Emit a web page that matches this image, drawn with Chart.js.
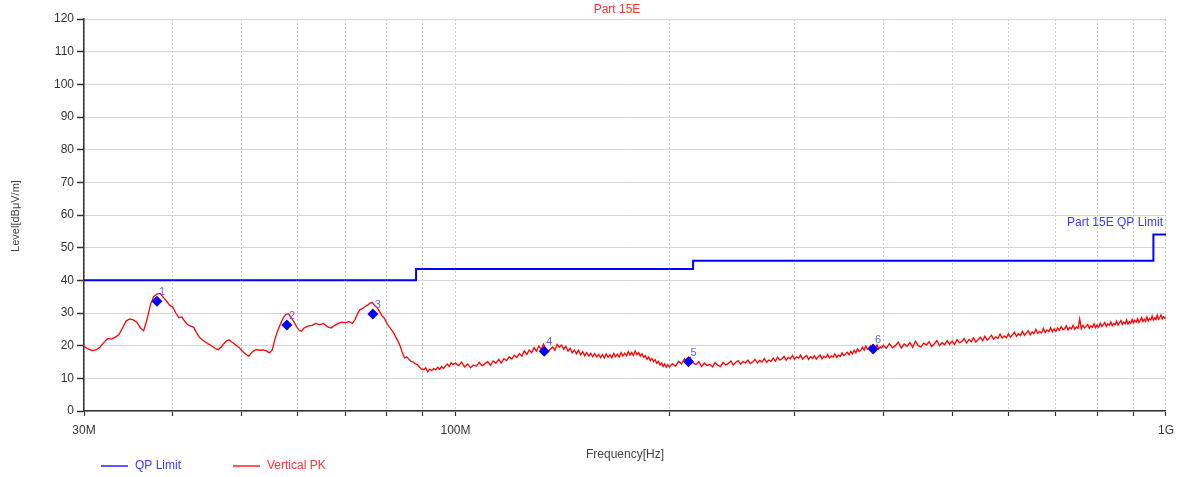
<!DOCTYPE html>
<html>
<head>
<meta charset="utf-8">
<script src="https://cdn.jsdelivr.net/npm/chart.js@4/dist/chart.umd.min.js"></script>
<style>
  html, body { margin: 0; padding: 0; background: #fff; }
  #wrap { width: 1181px; height: 477px; position: relative; }
</style>
</head>
<body>
<div id="wrap"><canvas id="emiChart"></canvas></div>
<script>
// ---- data (MHz / dBuV/m) ----
const gridFreqs = [30, 40, 50, 60, 70, 80, 90, 100, 200, 300, 400, 500, 600, 700, 800, 900, 1000];
const freqLabels = { 30: '30M', 100: '100M', 1000: '1G' };

const limitFreq = [30, 88, 88, 216, 216, 960, 960, 1000];
const limitLevel = [40, 40, 43.5, 43.5, 46, 46, 54, 54];

const markerFreq = [38.0, 57.9, 76.5, 133.3, 212.8, 387];
const markerLevel = [33.6, 26.3, 29.7, 18.3, 15.1, 19.0];
const markerNames = ['1', '2', '3', '4', '5', '6'];

const peakFreq = [
  30.0, 30.4, 30.8, 31.2, 31.6, 32.0, 32.4, 32.8, 33.2, 33.6, 34.0, 34.4, 34.8, 35.2, 35.6, 36.0, 36.4, 36.8, 37.2, 37.6,
  38.0, 38.4, 38.8, 39.2, 39.6, 40.0, 40.4, 40.8, 41.2, 41.6, 42.0, 42.4, 42.8, 43.2, 43.6, 44.0, 44.4, 44.8, 45.2, 45.6,
  46.0, 46.4, 46.8, 47.2, 47.6, 48.0, 48.4, 48.8, 49.2, 49.6, 50.0, 50.4, 50.8, 51.2, 51.6, 52.0, 52.4, 53.0, 53.6, 54.2,
  54.7, 55.2, 55.7, 56.2, 56.7, 57.2, 57.7, 58.2, 58.7, 59.2, 59.7, 60.2, 60.7, 61.2, 62.0, 62.8, 63.6, 64.4, 65.2, 66.0,
  66.8, 67.6, 68.4, 69.2, 70.0, 70.8, 71.6, 72.2, 72.8, 73.4, 74.0, 74.6, 75.2, 75.8, 76.4, 77.0, 77.6, 78.2, 78.8, 79.4,
  80.0, 80.6, 81.2, 81.8, 82.4, 83.0, 83.6, 84.2, 84.8, 85.4, 86.0, 86.6, 87.2, 87.8, 88.4, 89.0, 89.6, 90.2, 90.8, 91.4,
  92.0, 92.6, 93.2, 93.8, 94.4, 95.0, 95.6, 96.2, 96.8, 97.4, 98.0, 98.6, 99.2,
  100, 101, 102, 103, 104, 105, 106, 107, 108, 109, 110, 111, 112, 113, 114, 115, 116, 117, 118, 119,
  120, 121, 122, 123, 124, 125, 126, 127, 128, 129, 130, 131, 132, 133, 134, 135, 136, 137, 138, 139,
  140, 141, 142, 143, 144, 145, 146, 147, 148, 149, 150, 151, 152, 153, 154, 155, 156, 157, 158, 159,
  160, 161, 162, 163, 164, 165, 166, 167, 168, 169, 170, 171, 172, 173, 174, 175, 176, 177, 178, 179,
  180, 181, 182, 183, 184, 185, 186, 187, 188, 189, 190, 191, 192, 193, 194, 195, 196, 197, 198, 199,
  200, 202, 204, 206, 208, 210, 212, 214, 216, 218, 220, 222, 224, 226, 228, 230, 232, 234, 236, 238,
  240, 242, 244, 246, 248, 250, 252, 254, 256, 258, 260, 262, 264, 266, 268, 270, 272, 274, 276, 278,
  280, 282, 284, 286, 288, 290, 292, 294, 296, 298, 300, 302, 304, 306, 308, 310, 312, 314, 316, 318,
  320, 322, 324, 326, 328, 330, 332, 334, 336, 338, 340, 342, 344, 346, 348, 350, 352, 354, 356, 358,
  360, 362, 364, 366, 368, 370, 372, 374, 376, 378, 380, 382, 384, 386, 388, 390, 392, 394, 396, 398,
  400, 404, 408, 412, 416, 420, 424, 428, 432, 436, 440, 444, 448, 452, 456, 460, 464, 468, 472, 476,
  480, 484, 488, 492, 496, 500, 504, 508, 512, 516, 520, 524, 528, 532, 536, 540, 544, 548, 552, 556,
  560, 564, 568, 572, 576, 580, 584, 588, 592, 596, 600, 604, 608, 612, 616, 620, 624, 628, 632, 636,
  640, 644, 648, 652, 656, 660, 664, 668, 672, 676, 680, 684, 688, 692, 696, 700, 704, 708, 712, 716,
  720, 724, 728, 732, 736, 740, 744, 748, 752, 756, 760, 764, 768, 772, 776, 780, 784, 788, 792, 796,
  800, 804, 808, 812, 816, 820, 824, 828, 832, 836, 840, 844, 848, 852, 856, 860, 864, 868, 872, 876,
  880, 884, 888, 892, 896, 900, 904, 908, 912, 916, 920, 924, 928, 932, 936, 940, 944, 948, 952, 956,
  960, 964, 968, 972, 976, 980, 984, 988, 992, 996, 1000
];

const peakLevel = [
  // 30 - 99.2 MHz
  19.8, 19.0, 18.5, 18.7, 19.6, 21.0, 22.2, 22.0, 22.6, 23.4, 25.5, 27.6, 28.2, 27.9, 27.2, 25.5, 24.6, 28.0, 32.5, 35.0,
  35.8, 36.0, 34.8, 33.6, 32.4, 31.8, 30.0, 28.6, 28.8, 27.4, 26.4, 26.0, 25.6, 24.0, 22.6, 21.8, 21.2, 20.6, 20.2, 19.6,
  19.0, 18.8, 19.6, 20.6, 21.4, 21.8, 21.2, 20.6, 20.0, 19.4, 18.6, 17.8, 17.2, 16.8, 17.8, 18.4, 18.8, 18.6, 18.7, 18.4,
  17.8, 18.6, 22.0, 24.6, 26.6, 28.4, 29.6, 29.8, 28.6, 27.4, 26.0, 24.8, 24.4, 25.4, 26.0, 26.2, 26.8, 26.4, 26.8, 25.8,
  25.4, 26.2, 26.8, 27.2, 27.0, 27.4, 26.8, 28.0, 29.8, 31.0, 31.4, 32.0, 32.4, 33.0, 33.2, 32.2, 31.6, 30.4, 29.2, 28.4,
  27.0, 25.8, 25.0, 24.0, 22.6, 21.4, 19.8, 17.8, 16.2, 16.6, 15.8, 15.2, 15.0, 14.4, 14.2, 13.4, 12.8, 12.6, 13.2, 12.0,
  12.8, 12.4, 13.0, 12.6, 13.4, 12.8, 13.6, 13.0, 13.8, 14.4, 13.6, 14.8, 14.2,
  // 100 - 199 MHz
  14.7, 13.9, 15.0, 13.5, 14.4, 13.2, 14.1, 13.7, 14.9, 13.8, 14.5, 15.1, 14.0, 15.3, 14.6, 15.8, 14.7, 16.0, 15.4, 16.6,
  15.9, 17.1, 16.4, 17.6, 16.8, 18.4, 17.3, 18.7, 17.8, 19.4, 18.3, 19.9, 18.8, 20.5, 18.9, 18.1, 19.0, 19.6, 18.6, 20.4,
  19.5, 20.2, 18.9, 19.8, 18.3, 19.2, 17.8, 18.7, 17.5, 18.6, 17.2, 18.2, 16.9, 17.9, 16.8, 17.7, 16.6, 17.6, 16.5, 17.4,
  16.3, 17.3, 16.2, 17.5, 16.5, 17.2, 16.3, 17.6, 16.6, 17.4, 16.5, 17.9, 16.8, 17.7, 16.9, 18.2, 17.1, 18.0, 17.0, 18.4,
  17.2, 17.9, 16.8, 17.5, 16.4, 17.0, 15.8, 16.5, 15.4, 16.1, 15.1, 15.7, 14.6, 15.2, 14.1, 14.7, 13.6, 14.4, 13.4, 14.2,
  // 200 - 398 MHz
  13.5, 14.5, 13.7, 15.2, 14.4, 16.0, 15.1, 16.3, 14.8, 14.2, 15.1, 13.6, 14.7, 13.9, 14.3, 13.5, 14.8, 14.0, 13.6, 14.9,
  14.1, 14.5, 15.3, 14.1, 14.9, 15.4, 14.3, 15.2, 14.7, 15.6, 14.5, 15.0, 15.8, 14.7, 15.5, 15.0, 16.1, 14.9, 15.6, 15.2,
  16.2, 15.3, 16.5, 15.6, 16.0, 16.7, 15.5, 16.4, 16.0, 17.0, 15.8, 16.6, 16.2, 17.1, 15.9, 16.5, 17.0, 15.8, 16.7, 16.1,
  16.9, 15.9, 16.6, 17.1, 16.0, 16.8, 16.3, 17.3, 16.2, 16.9, 16.5, 17.5, 16.4, 17.1, 16.7, 17.8, 16.9, 17.4, 18.0, 17.2,
  18.3, 17.5, 18.6, 17.8, 19.0, 18.2, 18.7, 19.5, 18.6, 19.9, 18.9, 19.4, 20.0, 18.8, 19.6, 19.1, 20.2, 19.0, 19.7, 19.3,
  // 400 - 1000 MHz
  20.1, 19.2, 20.6, 19.4, 20.0, 21.1, 19.3, 20.5, 19.8, 20.9, 19.5, 21.4, 20.0, 19.6, 20.8, 20.2, 21.2, 19.7, 20.6, 21.6,
  20.0, 20.9, 20.3, 21.5, 20.4, 21.4, 20.4, 21.8, 20.9, 21.3, 22.2, 20.8, 21.9, 21.2, 22.4, 21.1, 21.8, 22.6, 21.5, 22.9,
  21.7, 22.3, 23.2, 22.0, 22.7, 22.2, 23.5, 22.3, 23.0, 22.4, 23.6, 22.6, 23.3, 24.1, 22.8, 23.7, 23.1, 24.4, 23.2, 23.9,
  24.6, 23.3, 24.2, 23.7, 25.0, 23.8, 24.4, 23.9, 25.3, 24.0, 24.8, 24.3, 25.5, 24.2, 25.1, 24.4, 25.4, 24.7, 25.8, 24.9,
  25.2, 26.1, 24.8, 25.6, 25.1, 26.2, 25.0, 25.7, 25.3, 28.2, 25.2, 26.3, 25.4, 25.9, 26.5, 25.3, 26.1, 25.6, 26.7, 25.5,
  26.3, 25.6, 26.9, 25.9, 26.4, 27.1, 25.9, 26.7, 26.2, 27.3, 26.1, 26.8, 26.4, 27.5, 26.3, 27.0, 27.7, 26.5, 27.2, 26.7,
  27.9, 26.6, 27.4, 26.9, 28.0, 27.0, 27.8, 27.2, 28.3, 27.1, 27.7, 28.6, 27.4, 28.1, 27.5, 28.8, 27.6, 28.3, 27.9, 29.1,
  27.8, 28.5, 28.0, 29.3, 28.1, 28.7, 29.4, 28.2, 28.9, 28.4, 28.6
];

const toPoints = (xs, ys) => xs.map((x, i) => ({ x: x, y: ys[i] }));

// ---- texts, legend, marker numbers ----
const overlayPlugin = {
  id: 'overlay',
  afterDraw(chart) {
    const c = chart.ctx;
    const xs = chart.scales.x;
    const ys = chart.scales.y;
    c.save();
    c.textBaseline = 'middle';

    // title
    c.font = '12px "Liberation Sans", Arial, sans-serif';
    c.fillStyle = '#ff3030';
    c.textAlign = 'center';
    c.fillText('Part 15E', 617, 10);

    // limit name
    c.fillStyle = '#3a3aee';
    c.textAlign = 'right';
    c.fillText('Part 15E QP Limit', xs.getPixelForValue(1000) - 3, ys.getPixelForValue(54) - 12);

    // marker numbers
    c.font = '11px "Liberation Sans", Arial, sans-serif';
    c.fillStyle = '#6060ff';
    c.textAlign = 'left';
    markerFreq.forEach((f, i) => {
      c.fillText(markerNames[i], xs.getPixelForValue(f) + 2, ys.getPixelForValue(markerLevel[i]) - 9);
    });

    // axis titles
    c.font = '12px "Liberation Sans", Arial, sans-serif';
    c.fillStyle = '#444';
    c.textAlign = 'center';
    c.fillText('Frequency[Hz]', 625, 455);
    c.save();
    c.translate(16, 216);
    c.rotate(-Math.PI / 2);
    c.font = '11px "Liberation Sans", Arial, sans-serif';
    c.fillText('Level[dB\u03bcV/m]', 0, 0);
    c.restore();

    // legend
    c.font = '12px "Liberation Sans", Arial, sans-serif';
    c.textAlign = 'left';
    c.lineWidth = 1.5;
    c.strokeStyle = '#2020ff';
    c.beginPath(); c.moveTo(101, 466); c.lineTo(128, 466); c.stroke();
    c.fillStyle = '#3a3aff';
    c.fillText('QP Limit', 135, 466);
    c.strokeStyle = '#ff2020';
    c.beginPath(); c.moveTo(233, 466); c.lineTo(260, 466); c.stroke();
    c.fillStyle = '#ff3030';
    c.fillText('Vertical PK', 267, 466);
    c.restore();
  }
};

const ctx = document.getElementById('emiChart').getContext('2d');
new Chart(ctx, {
  type: 'line',
  data: {
    datasets: [
      {
        label: 'Vertical PK',
        data: toPoints(peakFreq, peakLevel),
        borderColor: '#ff0000',
        borderWidth: 1.3,
        pointRadius: 0,
        tension: 0,
        order: 3
      },
      {
        label: 'QP Limit',
        data: toPoints(limitFreq, limitLevel),
        borderColor: '#0000ff',
        borderWidth: 2,
        pointRadius: 0,
        tension: 0,
        order: 2
      },
      {
        label: 'markers',
        data: toPoints(markerFreq, markerLevel),
        showLine: false,
        pointStyle: 'rectRot',
        pointRadius: 5.5,
        backgroundColor: '#0000ff',
        borderColor: '#0000ff',
        borderWidth: 0,
        order: 1
      }
    ]
  },
  options: {
    responsive: true,
    maintainAspectRatio: false,
    animation: false,
    layout: { padding: { left: 0, right: 15, top: 19, bottom: 0 } },
    plugins: { legend: { display: false }, title: { display: false }, tooltip: { enabled: false } },
    scales: {
      x: {
        type: 'logarithmic',
        min: 30,
        max: 1000,
        afterBuildTicks: (scale) => { scale.ticks = gridFreqs.map(v => ({ value: v })); },
        afterFit: (scale) => { scale.height = 66; },
        ticks: {
          autoSkip: false,
          maxRotation: 0,
          padding: 7,
          color: '#333',
          font: { family: '"Liberation Sans", Arial, sans-serif', size: 12 },
          callback: (v) => freqLabels[v] || ''
        },
        grid: { color: '#c8c8c8', lineWidth: 1, tickLength: 5, tickColor: '#333', tickWidth: 1.2 },
        border: { display: true, color: '#333', width: 1.5, dash: [2, 2] }
      },
      y: {
        min: 0,
        max: 120,
        afterFit: (scale) => { scale.width = 84; },
        ticks: {
          stepSize: 10,
          padding: 3,
          color: '#333',
          font: { family: '"Liberation Sans", Arial, sans-serif', size: 12 }
        },
        grid: { color: '#d6d6d6', lineWidth: 1, tickLength: 7, tickColor: '#333', tickWidth: 1.5 },
        border: { display: true, color: '#333', width: 1.5 }
      }
    }
  },
  plugins: [overlayPlugin]
});
</script>
</body>
</html>
